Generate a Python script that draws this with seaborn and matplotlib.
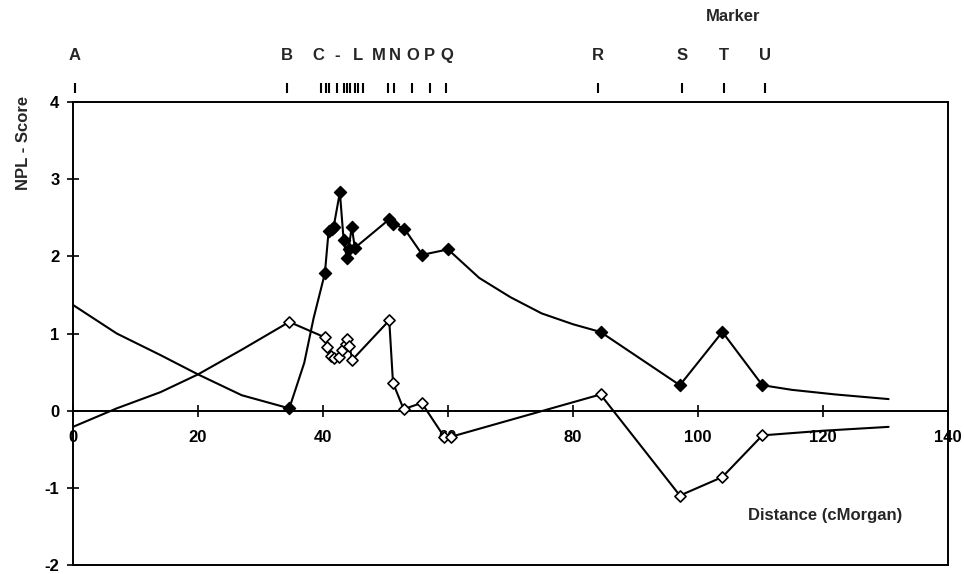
import matplotlib
matplotlib.use("Agg")
import matplotlib.pyplot as plt
import pandas as pd
import seaborn as sns

# marker map (cM) - one tick per marker A..U
marker_names = list("ABCDEFGHIJKLMNOPQRSTU")
marker_pos = [0.3, 34.3, 39.6, 40.4, 40.9, 42.2, 43.3, 43.8, 44.3, 45.1, 45.6,
              46.4, 50.4, 51.4, 54.2, 57.1, 59.7, 84.0, 97.4, 104.1, 110.7]
# letters printed above the ticks (C..L written as "C - L")
label_text = ["A", "B", "C", "-", "L", "M", "N", "O", "P", "Q", "R", "S", "T", "U"]
label_pos = [0.3, 34.3, 39.2, 42.2, 45.6, 48.9, 51.5, 54.3, 57.1, 59.8, 84.0, 97.4, 104.1, 110.7]

# filled-diamond series (curve vertices, 1 = diamond drawn at marker)
filled_x = [0, 7, 14, 20, 27, 34.6, 35.5, 37.0, 38.5, 40.3, 40.9, 41.4, 41.7, 42.7,
            43.3, 43.8, 44.1, 44.6, 45.1, 50.6, 51.2, 53.0, 55.9, 60.0, 65, 70, 75,
            80, 84.4, 97.1, 103.9, 110.3, 115, 122, 130.5]
filled_y = [1.37, 1.0, 0.72, 0.47, 0.2, 0.03, 0.25, 0.62, 1.2, 1.78, 2.33, 2.36, 2.38, 2.83,
            2.21, 1.98, 2.10, 2.38, 2.11, 2.48, 2.42, 2.36, 2.02, 2.09, 1.72, 1.47, 1.26,
            1.12, 1.02, 0.33, 1.02, 0.33, 0.27, 0.21, 0.15]
filled_mark = [0, 0, 0, 0, 0, 1, 0, 0, 0, 1, 1, 1, 1, 1,
               1, 1, 1, 1, 1, 1, 1, 1, 1, 1, 0, 0, 0,
               0, 1, 1, 1, 1, 0, 0, 0]

# open-diamond series
open_x = [0, 7, 14, 20, 27, 34.6, 40.3, 40.7, 41.3, 41.8, 42.6, 43.1, 43.6, 43.9,
          44.2, 44.7, 50.6, 51.2, 52.9, 55.8, 59.4, 60.4, 84.4, 97.1, 103.9, 110.3,
          120, 130.5]
open_y = [-0.21, 0.03, 0.24, 0.47, 0.79, 1.15, 0.95, 0.82, 0.71, 0.68, 0.70, 0.79, 0.86, 0.93,
          0.84, 0.66, 1.17, 0.36, 0.02, 0.10, -0.34, -0.34, 0.21, -1.10, -0.86, -0.32,
          -0.26, -0.21]
open_mark = [0, 0, 0, 0, 0, 1, 1, 1, 1, 1, 1, 1, 1, 1,
             1, 1, 1, 1, 1, 1, 1, 1, 1, 1, 1, 1,
             0, 0]

df_f = pd.DataFrame({"cm": filled_x, "npl": filled_y, "mark": filled_mark})
df_o = pd.DataFrame({"cm": open_x, "npl": open_y, "mark": open_mark})

sns.set_theme(style="white")
plt.rcParams["font.family"] = ["Liberation Sans", "DejaVu Sans"]
plt.rcParams["font.weight"] = "bold"
plt.rcParams["axes.unicode_minus"] = False

fig = plt.figure(figsize=(9.64, 5.74), dpi=100)
ax = fig.add_axes([73 / 964, 9 / 574, 875 / 964, 463 / 574])

lw = 1.5
sns.lineplot(data=df_f, x="cm", y="npl", sort=False, estimator=None, color="black", lw=lw, ax=ax)
sns.lineplot(data=df_o, x="cm", y="npl", sort=False, estimator=None, color="black", lw=lw, ax=ax)
sns.scatterplot(data=df_f[df_f["mark"] == 1], x="cm", y="npl", marker="D", s=38,
                color="black", edgecolor="black", linewidth=1.0, zorder=5, ax=ax)
sns.scatterplot(data=df_o[df_o["mark"] == 1], x="cm", y="npl", marker="D", s=32,
                color="white", edgecolor="black", linewidth=1.2, zorder=5, ax=ax)

ax.set_xlim(0, 140)
ax.set_ylim(-2, 4)
ax.set_xticks(range(0, 141, 20))
ax.set_yticks(range(-2, 5))
ax.set_xlabel("")
ax.set_ylabel("")

for s in ax.spines.values():
    s.set_color("black")
    s.set_linewidth(1.4)
ax.spines["bottom"].set_position(("data", 0))
# bottom frame line of the box
ax.axhline(-2, color="black", lw=1.4, clip_on=False, zorder=1)

ax.tick_params(axis="x", direction="inout", length=8, width=1.2, pad=10,
               labelsize=12, colors="black", bottom=True)
ax.tick_params(axis="y", direction="inout", length=8.5, width=1.2, pad=5.5,
               labelsize=12, colors="black", left=True)
for t in ax.get_xticklabels() + ax.get_yticklabels():
    t.set_fontweight("bold")

# marker ticks and letters above the frame
trans = ax.get_xaxis_transform()
ax.vlines(marker_pos, 1.02, 1.042, colors="black", lw=1.5, transform=trans, clip_on=False)
for name, x in zip(label_text, label_pos):
    ax.text(x, 1.1, name, transform=trans, ha="center", va="center",
            fontsize=12, fontweight="bold")
ax.text(105.6, 1.185, "Marker", transform=trans, ha="center", va="center",
        fontsize=12, fontweight="bold")

ax.text(-0.056, 0.912, "NPL - Score", transform=ax.transAxes, rotation=90,
        ha="center", va="center", fontsize=12, fontweight="bold")
ax.text(0.859, 0.106, "Distance (cMorgan)", transform=ax.transAxes,
        ha="center", va="center", fontsize=12, fontweight="bold")

fig.savefig("out.png", dpi=100)
plt.close(fig)
